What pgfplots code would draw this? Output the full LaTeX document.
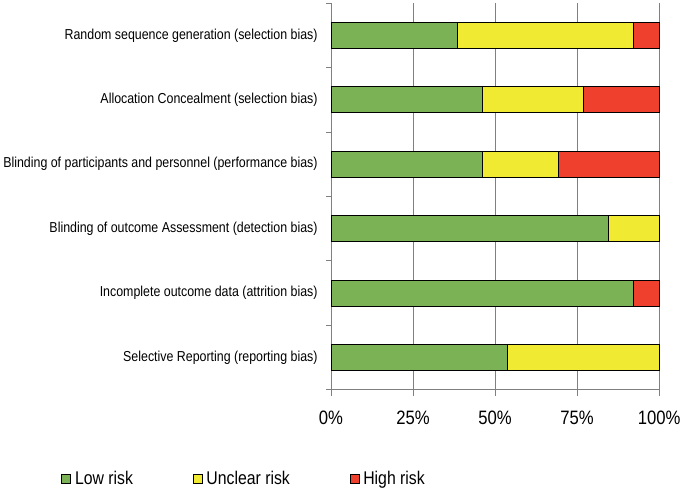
\documentclass[border=0pt]{standalone}
\usepackage{pgfplots}
\pgfplotsset{compat=1.18}
\usepackage{fontspec}
\setmainfont{Liberation Sans}[FakeStretch=0.86]
\definecolor{lowc}{RGB}{122,178,85}
\definecolor{uncc}{RGB}{240,234,50}
\definecolor{highc}{RGB}{238,64,45}
\definecolor{axc}{RGB}{128,128,128}
\begin{document}
\begin{tikzpicture}
\begin{axis}[
  scale only axis, width=330pt, height=389pt,
  xbar stacked, bar width=26pt,
  xmin=0, xmax=100, ymin=-0.5, ymax=5.5,
  axis x line=bottom, axis y line=left,
  axis line style={-, draw=axc, line width=0.9pt},
  xtick={0,25,50,75,100},
  xticklabels={0\%,25\%,50\%,75\%,100\%},
  xmajorgrids=true,
  grid style={draw=axc, line width=0.9pt},
  tick align=outside,
  x tick style={draw=axc, line width=0.9pt},
  major tick length=6pt,
  xticklabel style={font=\fontsize{19.5}{22}\selectfont, yshift=-12pt},
  ytick={0,1,2,3,4,5},
  yticklabels={Selective Reporting (reporting bias),
               Incomplete outcome data (attrition bias),
               Blinding of outcome Assessment (detection bias),
               Blinding of participants and personnel (performance bias),
               Allocation Concealment (selection bias),
               Random sequence generation (selection bias)},
  yticklabel style={font=\fontsize{14.5}{17}\selectfont, xshift=-4pt},
  y tick style={draw=none},
  minor ytick={-0.5,0.5,1.5,2.5,3.5,4.5,5.5},
  minor y tick style={draw=axc, line width=0.9pt},
  minor tick length=5pt,
  clip=false,
  legend columns=3,
  legend style={draw=none, fill=none, at={(-0.265,-0.23)}, anchor=center,
    font=\fontsize{18.5}{22}\selectfont,
    /tikz/every odd column/.append style={column sep=2pt},
    /tikz/every even column/.append style={column sep=58pt},
    inner sep=0pt},
  legend image code/.code={\draw[#1, draw=black, line width=0.8pt] (0pt,-4.5pt) rectangle (9pt,4.5pt);},
  every axis plot/.append style={draw=black, line width=0.8pt},
]
\addplot[fill=lowc] coordinates {(53.85,0) (92.31,1) (84.62,2) (46.15,3) (46.15,4) (38.46,5)};
\addplot[fill=uncc] coordinates {(46.15,0) (0,1) (15.38,2) (23.08,3) (30.77,4) (53.85,5)};
\addplot[fill=highc] coordinates {(0,0) (7.69,1) (0,2) (30.77,3) (23.08,4) (7.69,5)};
\legend{Low risk,Unclear risk,High risk}
\path (rel axis cs:-0.997,-0.257) (rel axis cs:1.079,1.008);
\end{axis}
\end{tikzpicture}
\end{document}
